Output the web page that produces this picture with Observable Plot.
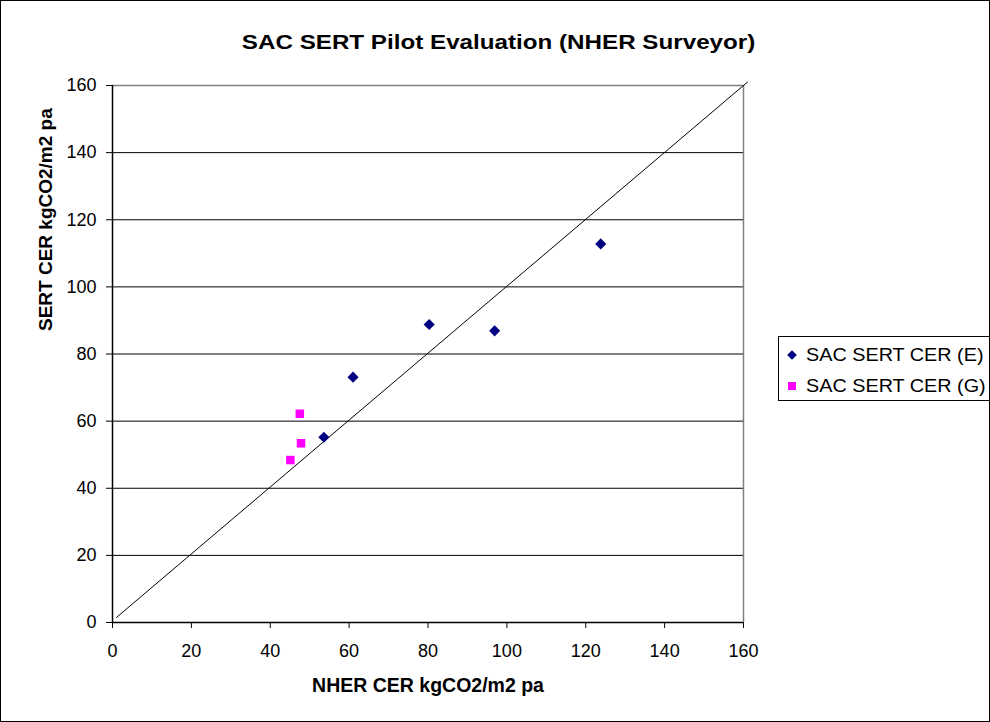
<!DOCTYPE html>
<html>
<head>
<meta charset="utf-8">
<script src="https://cdn.jsdelivr.net/npm/d3@7"></script>
<script src="https://cdn.jsdelivr.net/npm/@observablehq/plot@0.6"></script>
<style>
  html, body { margin: 0; padding: 0; background: #fff; }
  #chart { position: relative; width: 990px; height: 722px; background: #fff; font-family: "Liberation Sans", Arial, sans-serif; color: #000; overflow: hidden; }
  #chart > svg { position: absolute; left: 0; top: 0; }
  #border { position: absolute; left: 0; top: 0; width: 990px; height: 722px; box-sizing: border-box; border: 1px solid #000; pointer-events: none; }
  #title { position: absolute; left: 0; width: 998px; top: 30px; text-align: center; font-weight: bold; font-size: 20.5px; line-height: 24px; }
  #title span { display: inline-block; transform: scaleX(1.18); transform-origin: center; white-space: nowrap; }
  #legend { position: absolute; left: 778px; top: 336px; width: 230px; height: 65px; box-sizing: border-box; border: 1px solid #000; background: #fff; font-size: 18px; }
  .item { position: absolute; left: 8px; height: 22px; line-height: 22px; white-space: nowrap; }
  .item svg { position: absolute; left: 0; top: 6px; }
  .item span { position: absolute; left: 19px; top: 0; display: inline-block; transform: scaleX(1.1); transform-origin: left center; }
</style>
</head>
<body>
<div id="chart">
  <div id="title"></div>
  <div id="legend"></div>
  <div id="border"></div>
</div>
<script>
// Chart text
const chartTitle = "SAC SERT Pilot Evaluation (NHER Surveyor)";
const xTitle = ["NHER CER kgCO2/m2 pa"];
const yTitle = ["SERT CER kgCO2/m2 pa"];
const seriesNames = ["SAC SERT CER (E)", "SAC SERT CER (G)"];
const seriesColors = ["#000080", "#FF00FF"];

// Axis ticks
const xTicks = [0, 20, 40, 60, 80, 100, 120, 140, 160];
const yTicks = [0, 20, 40, 60, 80, 100, 120, 140, 160];
const yGrid = [20, 40, 60, 80, 100, 120, 140];

// SAC SERT CER (E)
const eNher = [53.6, 61.0, 80.3, 96.9, 123.8];
const eSert = [55.2, 73.1, 88.8, 86.9, 112.8];

// SAC SERT CER (G)
const gNher = [47.5, 47.8, 45.1];
const gSert = [62.2, 53.4, 48.4];

// Equality reference line
const refX = [1, 161];
const refY = [1.5, 161];

const eData = eNher.map((x, i) => ({x, y: eSert[i]}));
const gData = gNher.map((x, i) => ({x, y: gSert[i]}));
const refData = refX.map((x, i) => ({x, y: refY[i]}));

const plot = Plot.plot({
  width: 990,
  height: 722,
  marginLeft: 112,
  marginRight: 247,
  marginTop: 85,
  marginBottom: 100,
  style: { fontFamily: "Liberation Sans, Arial, sans-serif", fontSize: "18px", color: "#000", background: "transparent", overflow: "visible" },
  x: { domain: [0, 160] },
  y: { domain: [0, 160] },
  marks: [
    Plot.ruleY(yGrid, { stroke: "#000", strokeWidth: 1 }),
    Plot.ruleY([160], { stroke: "#808080", strokeWidth: 1.5 }),
    Plot.ruleX([160], { stroke: "#808080", strokeWidth: 1.5 }),
    Plot.ruleY([0], { stroke: "#000", strokeWidth: 1.5 }),
    Plot.ruleX([0], { stroke: "#000", strokeWidth: 1.5 }),
    Plot.axisX({ ticks: xTicks, tickSize: 6, tickPadding: 16, label: null, tickFormat: d => d, stroke: "#000", fontSize: 18 }),
    Plot.axisY({ ticks: yTicks, tickSize: 6, tickPadding: 10, label: null, tickFormat: d => d, stroke: "#000", fontSize: 18 }),
    Plot.line(refData, { x: "x", y: "y", stroke: "#000", strokeWidth: 1 }),
    Plot.dot(eData, { x: "x", y: "y", symbol: "diamond2", r: 5, fill: seriesColors[0], stroke: "none" }),
    Plot.dot(gData, { x: "x", y: "y", symbol: "square", r: 4.8, fill: seriesColors[1], stroke: "none" }),
    Plot.text(xTitle, { text: d => d, frameAnchor: "bottom", dy: 69, fontWeight: "bold", fontSize: 19.5 }),
    Plot.text(yTitle, { text: d => d, frameAnchor: "left", dx: -67, dy: -23, rotate: -90, fontWeight: "bold", fontSize: 19 })
  ]
});
document.getElementById("chart").insertBefore(plot, document.getElementById("title"));
const titleSpan = document.createElement("span");
titleSpan.textContent = chartTitle;
document.getElementById("title").appendChild(titleSpan);

// Legend
const legend = document.getElementById("legend");
const swatches = [
  '<svg width="10" height="10" viewBox="-5 -5 10 10"><path d="M0,-4.8L4.8,0L0,4.8L-4.8,0Z" fill="' + seriesColors[0] + '"/></svg>',
  '<svg width="10" height="10" viewBox="0 0 10 10"><rect width="8" height="8" x="1" y="1" fill="' + seriesColors[1] + '"/></svg>'
];
seriesNames.forEach((name, i) => {
  const div = document.createElement("div");
  div.className = "item";
  div.style.top = (7 + i * 31) + "px";
  div.innerHTML = swatches[i] + "<span>" + name + "</span>";
  legend.appendChild(div);
});
</script>
</body>
</html>
